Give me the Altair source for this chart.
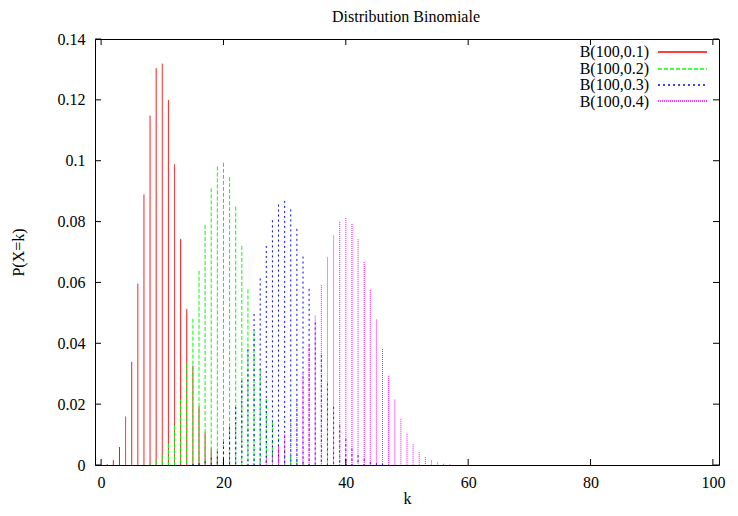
import altair as alt
import pandas as pd

# ---- data ----
chart_title = "Distribution Binomiale"
series_names = ["B(100,0.1)", "B(100,0.2)", "B(100,0.3)", "B(100,0.4)"]
series_colors = ["#ff0000", "#00ff00", "#0000ff", "#ff00ff"]
series_dashes = [[1, 0], [4, 2], [2, 3], [1, 1]]

k_red_start = 0
p_red = [0.00003, 0.0003, 0.0016, 0.0059, 0.0159, 0.0339, 0.0596, 0.0889, 0.1148,
         0.1304, 0.1319, 0.1199, 0.0988, 0.0743, 0.0513, 0.0327, 0.0193, 0.0106,
         0.0054, 0.0026, 0.0012, 0.0005, 0.0002]

k_green_start = 7
p_green = [0.0002, 0.0006, 0.0015, 0.0034, 0.0069, 0.0128, 0.0216, 0.0335, 0.0481,
           0.0638, 0.0789, 0.0909, 0.0981, 0.0993, 0.0946, 0.0849, 0.0720, 0.0577,
           0.0439, 0.0316, 0.0217, 0.0141, 0.0088, 0.0052, 0.0029, 0.0016, 0.0008,
           0.0004, 0.0002]

k_blue_start = 15
p_blue = [0.0003, 0.0006, 0.0012, 0.0024, 0.0044, 0.0076, 0.0124, 0.0190, 0.0277,
          0.0380, 0.0496, 0.0613, 0.0720, 0.0804, 0.0856, 0.0868, 0.0840, 0.0776,
          0.0685, 0.0579, 0.0468, 0.0362, 0.0268, 0.0191, 0.0130, 0.0085, 0.0053,
          0.0032, 0.0019, 0.0010, 0.0006, 0.0003]

k_magenta_start = 24
p_magenta = [0.0003, 0.0006, 0.0012, 0.0022, 0.0038, 0.0063, 0.0100, 0.0151, 0.0217,
             0.0298, 0.0391, 0.0491, 0.0591, 0.0682, 0.0754, 0.0799, 0.0812, 0.0792,
             0.0742, 0.0667, 0.0576, 0.0478, 0.0381, 0.0292, 0.0215, 0.0152, 0.0103,
             0.0068, 0.0042, 0.0026, 0.0015, 0.0008, 0.0004, 0.0002]

x_ticks = [0, 20, 40, 60, 80, 100]
y_ticks = [0, 0.02, 0.04, 0.06, 0.08, 0.1, 0.12, 0.14]

# ---- build table ----
rows = []
for name, start, vals in zip(series_names,
                             [k_red_start, k_green_start, k_blue_start, k_magenta_start],
                             [p_red, p_green, p_blue, p_magenta]):
    for i, v in enumerate(vals):
        rows.append({"k": start + i, "p": v, "serie": name})
df = pd.DataFrame(rows)

W, H = 624, 426
FONT = "Liberation Serif"
FS = 16
TL = 6  # inward tick length

xs = alt.Scale(domain=[-1, 101], nice=False, zero=False)
ys = alt.Scale(domain=[0, 0.14], nice=False, zero=False)

xaxis = alt.Axis(values=x_ticks, ticks=False, domain=False, grid=False, labelPadding=9,
                 title="k", titleX=W / 2, titleY=33, titleBaseline="middle",
                 labelFont=FONT, titleFont=FONT, labelColor="black", titleColor="black",
                 titleFontWeight="normal", labelFontSize=FS, titleFontSize=FS)
yaxis = alt.Axis(values=y_ticks, ticks=False, domain=False, grid=False, labelPadding=10,
                 format="~g", title="P(X=k)", titleX=-77, titleY=H / 2,
                 titleBaseline="middle", titleAngle=-90,
                 labelFont=FONT, titleFont=FONT, labelColor="black", titleColor="black",
                 titleFontWeight="normal", labelFontSize=FS, titleFontSize=FS)

impulses = alt.Chart(df).mark_rule(strokeWidth=1).encode(
    x=alt.X("k:Q", scale=xs, axis=xaxis),
    y=alt.Y("p:Q", scale=ys, axis=yaxis),
    y2=alt.datum(0),
    color=alt.Color("serie:N", scale=alt.Scale(domain=series_names, range=series_colors), legend=None),
    strokeDash=alt.StrokeDash("serie:N", scale=alt.Scale(domain=series_names, range=series_dashes), legend=None),
)

xt_df = pd.DataFrame({"k": x_ticks})
yt_df = pd.DataFrame({"p": y_ticks})

xt_bottom = alt.Chart(xt_df).mark_rule(color="black", strokeWidth=1).encode(
    x=alt.X("k:Q", scale=xs, axis=xaxis), y=alt.value(H), y2=alt.value(H - TL))
xt_top = alt.Chart(xt_df).mark_rule(color="black", strokeWidth=1).encode(
    x=alt.X("k:Q", scale=xs, axis=xaxis), y=alt.value(0), y2=alt.value(TL))
yt_left = alt.Chart(yt_df).mark_rule(color="black", strokeWidth=1).encode(
    y=alt.Y("p:Q", scale=ys, axis=yaxis), x=alt.value(0), x2=alt.value(TL))
yt_right = alt.Chart(yt_df).mark_rule(color="black", strokeWidth=1).encode(
    y=alt.Y("p:Q", scale=ys, axis=yaxis), x=alt.value(W), x2=alt.value(W - TL))

title_layer = alt.Chart(pd.DataFrame({"t": [chart_title]})).mark_text(
    align="center", baseline="alphabetic", font=FONT, fontSize=FS, color="black").encode(
    text="t:N", x=alt.value(311), y=alt.value(-17))

legend_layers = []
for i, (name, col, dash) in enumerate(zip(series_names, series_colors, series_dashes)):
    ly = 13 + 16.5 * i
    ldf = pd.DataFrame({"serie": [name]})
    legend_layers.append(
        alt.Chart(ldf).mark_text(align="right", baseline="middle", font=FONT,
                                 fontSize=FS, color="black").encode(
            text="serie:N", x=alt.value(554), y=alt.value(ly)))
    legend_layers.append(
        alt.Chart(ldf).mark_rule(color=col, strokeWidth=1.3, strokeDash=dash).encode(
            x=alt.value(563), x2=alt.value(612), y=alt.value(round(ly))))

chart = alt.layer(impulses, xt_bottom, xt_top, yt_left, yt_right, title_layer,
                  *legend_layers).properties(
    width=W, height=H,
    autosize=alt.AutoSizeParams(type="none"),
    padding={"left": 87, "top": 31, "right": 11, "bottom": 43},
    background="white",
).configure_view(stroke="black", strokeWidth=1).configure_axis(
    labelFont=FONT, titleFont=FONT, labelColor="black", titleColor="black",
    titleFontWeight="normal",
)

chart.save("out.html", embed_options={"renderer": "svg", "actions": False})
